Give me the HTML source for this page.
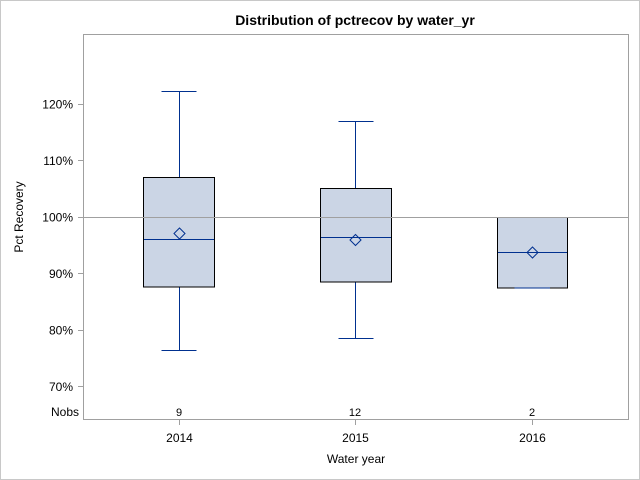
<!DOCTYPE html>
<html><head><style>body{margin:0;background:#fff}svg{display:block}text{font-family:"Liberation Sans",Arial,sans-serif;fill:#000}</style></head>
<body>
<svg width="640" height="480" viewBox="0 0 640 480" xmlns="http://www.w3.org/2000/svg">
<rect x="0.5" y="0.5" width="639" height="479" fill="#fff" stroke="#c8c8c8"/>
<text x="355" y="25" font-size="14" font-weight="bold" text-anchor="middle">Distribution of pctrecov by water_yr</text>
<rect x="83.5" y="34.5" width="545" height="385" fill="none" stroke="#a0a0a0"/>
<g stroke="#a0a0a0">
<line x1="78" y1="104.5" x2="83" y2="104.5"/><line x1="78" y1="160.5" x2="83" y2="160.5"/>
<line x1="78" y1="217.5" x2="83" y2="217.5"/><line x1="78" y1="273.5" x2="83" y2="273.5"/>
<line x1="78" y1="330.5" x2="83" y2="330.5"/><line x1="78" y1="386.5" x2="83" y2="386.5"/>
<line x1="179.5" y1="420" x2="179.5" y2="425"/><line x1="355.5" y1="420" x2="355.5" y2="425"/><line x1="532.5" y1="420" x2="532.5" y2="425"/>
</g>
<g font-size="12" text-anchor="end">
<text x="73" y="108.5">120%</text><text x="73" y="165">110%</text><text x="73" y="221.5">100%</text>
<text x="73" y="278">90%</text><text x="73" y="334.5">80%</text><text x="73" y="391">70%</text>
<text x="79" y="416">Nobs</text></g>
<g font-size="11" text-anchor="middle"><text x="179" y="416">9</text><text x="355" y="416">12</text><text x="532" y="416">2</text></g>
<g font-size="12" text-anchor="middle"><text x="179.5" y="442">2014</text><text x="355.5" y="442">2015</text><text x="532.5" y="442">2016</text>
<text x="356" y="463">Water year</text></g>
<text transform="translate(23,217) rotate(-90)" font-size="12" text-anchor="middle">Pct Recovery</text>
<!-- 2014 -->
<g stroke="#00308f" stroke-width="1" fill="none">
<line x1="179.5" y1="91.5" x2="179.5" y2="177.5"/><line x1="179.5" y1="287" x2="179.5" y2="350.5"/>
<line x1="161.5" y1="91.5" x2="196.5" y2="91.5"/><line x1="161.5" y1="350.5" x2="196.5" y2="350.5"/>
<line x1="355.5" y1="121.5" x2="355.5" y2="188.5"/><line x1="355.5" y1="282" x2="355.5" y2="338.5"/>
<line x1="338.5" y1="121.5" x2="373.5" y2="121.5"/><line x1="338.5" y1="338.5" x2="373.5" y2="338.5"/>
</g>
<rect x="143.5" y="177.5" width="71" height="109.5" fill="#cbd5e5" stroke="#000"/>
<rect x="320.5" y="188.5" width="71" height="93.5" fill="#cbd5e5" stroke="#000"/>
<rect x="497.5" y="217.5" width="70" height="70.5" fill="#cbd5e5" stroke="#000"/>
<line x1="83" y1="217.5" x2="628" y2="217.5" stroke="#a0a0a0"/>
<g stroke="#00308f" fill="none">
<line x1="144" y1="239.5" x2="214" y2="239.5"/>
<line x1="321" y1="237.5" x2="391" y2="237.5"/>
<line x1="498" y1="252.5" x2="567" y2="252.5"/>
<line x1="514.5" y1="288" x2="550" y2="288"/>
<path d="M179.5 228 L185 233.5 L179.5 239 L174 233.5 Z"/>
<path d="M355.5 234.5 L361 240 L355.5 245.5 L350 240 Z"/>
<path d="M532.5 247 L538 252.5 L532.5 258 L527 252.5 Z"/>
</g>
</svg>
</body></html>
